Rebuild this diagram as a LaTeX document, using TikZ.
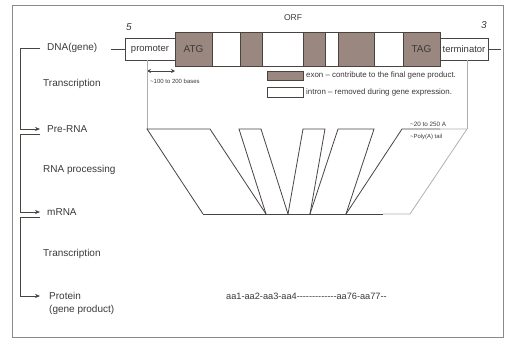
\documentclass[tikz,border=0pt]{standalone}
\usepackage{fontspec}
\setmainfont{Liberation Sans}
\usetikzlibrary{arrows.meta}
\definecolor{exonc}{HTML}{9A8780}
\definecolor{linec}{HTML}{4A4440}
\definecolor{txtc}{HTML}{3A3A3A}
\definecolor{framec}{HTML}{8A8A8A}
\definecolor{tailc}{HTML}{B0B0B0}
\begin{document}
\begin{tikzpicture}[x=1pt,y=-1pt,
  lab/.style={anchor=west,inner sep=0pt,text=txtc,font=\fontsize{10}{11}\selectfont},
  exonbox/.style={draw=linec,fill=exonc,line width=0.8pt,minimum height=34pt,inner sep=0pt,text=txtc,font=\fontsize{10}{11}\selectfont},
  intronbox/.style={draw=linec,fill=white,line width=0.8pt,minimum height=34pt,inner sep=0pt},
  endbox/.style={draw=linec,fill=white,line width=0.8pt,minimum height=22pt,inner sep=0pt,text=txtc,font=\fontsize{9.5}{11}\selectfont},
  conn/.style={draw=linec,line width=0.7pt},
  arr/.style={conn,-{Stealth[length=5pt,width=4pt]}},
  shp/.style={draw=linec,line width=0.8pt},
  thin/.style={draw=framec!70,line width=0.4pt},
  small/.style={anchor=west,inner sep=0pt,text=txtc,font=\fontsize{6.3}{7}\selectfont}]
\useasboundingbox (0,0) rectangle (509,340);
\fill[white] (0,0) rectangle (509,340);
\draw[framec,line width=0.6pt] (12,5) rectangle (503,337);

% left labels
\node[lab] (dna) at (47,48) {DNA(gene)};
\node[lab] (tr1) at (43,84) {Transcription};
\node[lab] (pre) at (47,129) {Pre-RNA};
\node[lab] (proc) at (43,170) {RNA processing};
\node[lab] (mrna) at (47,212) {mRNA};
\node[lab] (tr2) at (43,254) {Transcription};
\node[lab] (prot) at (49,296) {Protein};
\node[lab] (prot2) at (49,310) {(gene product)};

% left bracket connectors
\coordinate (c1) at (40,48);
\coordinate (c2) at (40,129);
\coordinate (c3) at (40,134);
\coordinate (c4) at (40,212);
\coordinate (c5) at (40,217);
\coordinate (c6) at (40,296);
\draw[arr] (c1) -- (20,48) -- (20,129) -- (c2);
\draw[arr] (c3) -- (20,134) -- (20,212) -- (c4);
\draw[arr] (c5) -- (20,217) -- (20,296) -- (c6);

% gene bar
\node[endbox,minimum width=50pt] (prom) at (150,49) {promoter};
\node[exonbox,minimum width=37pt] (e1) at (193.5,49) {ATG};
\node[intronbox,minimum width=28pt] (i1) at (226,49) {};
\node[exonbox,minimum width=22pt] (e2) at (251,49) {};
\node[intronbox,minimum width=41pt] (i2) at (282.5,49) {};
\node[exonbox,minimum width=22pt] (e3) at (314,49) {};
\node[intronbox,minimum width=13pt] (i3) at (331.5,49) {};
\node[exonbox,minimum width=36pt] (e4) at (356,49) {};
\node[intronbox,minimum width=29pt] (i4) at (388.5,49) {};
\node[exonbox,minimum width=37pt] (e5) at (421.5,49) {TAG};
\node[endbox,minimum width=48pt] (term) at (464,49) {terminator};
\coordinate (lend) at (111,49);
\coordinate (rend) at (501,49);
\draw[conn] (lend) -- (prom.west);
\draw[conn] (term.east) -- (rend);
\node[text=txtc,font=\itshape\fontsize{10}{11}\selectfont] (five) at (129,27) {5};
\node[text=txtc,font=\itshape\fontsize{10}{11}\selectfont] (three) at (484,25) {3};
\node[text=txtc,font=\fontsize{8.5}{10}\selectfont] (orf) at (293,18) {ORF};

% bases arrow
\coordinate (b1) at (147,71);
\coordinate (b2) at (175,71);
\draw[draw=linec,line width=0.8pt,{Stealth[length=4pt,width=4pt]}-{Stealth[length=4pt,width=4pt]}] (b1) -- (b2);
\node[small,font=\fontsize{6}{7}\selectfont] (bases) at (150,81) {\textasciitilde100 to 200 bases};

% legend
\node[draw=linec,fill=exonc,line width=0.7pt,minimum width=36pt,minimum height=9pt,inner sep=0pt] (lex) at (285,75.5) {};
\node[draw=linec,fill=white,line width=0.7pt,minimum width=36pt,minimum height=10pt,inner sep=0pt] (lin) at (285,92) {};
\node[lab,font=\fontsize{7.9}{9}\selectfont] (lext) at (306,75.5) {exon -- contribute to the final gene product.};
\node[lab,font=\fontsize{7.9}{9}\selectfont] (lint) at (306,92) {intron -- removed during gene expression.};

% thin verticals
\coordinate (p1) at (147,129);
\coordinate (p2) at (467,129);
\draw[thin] (147,60) -- (p1);
\draw[thin] (467,60) -- (p2);

% processing shapes: top y=129, bottom y=214
\draw[shp] (203,214) -- (147,129) -- (210,129) -- (266,214);
\draw[shp] (266,214) -- (239,129) -- (261,129) -- (288,214);
\draw[shp] (288,214) -- (303,129) -- (325,129) -- (310,214);
\draw[shp] (310,214) -- (338,129) -- (374,129) -- (346,214);
\draw[shp] (346,214) -- (402,129) -- (440,129);
\draw[shp] (203,214) -- (383,214);
\draw[draw=tailc,line width=0.8pt] (440,129) -- (467,129) -- (410,214) -- (383,214);
\node[small] (tail1) at (410,124) {\textasciitilde20 to 250 A};
\node[small,font=\fontsize{5.9}{7}\selectfont] (tail2) at (410,137) {\textasciitilde Poly(A) tail};

% protein sequence
\node[lab,font=\fontsize{9.2}{10}\selectfont] (aa) at (226,296) {aa1-aa2-aa3-aa4-{}-{}-{}-{}-{}-{}-{}-{}-{}-{}-{}-{}-aa76-aa77-{}-};
\end{tikzpicture}
\end{document}
